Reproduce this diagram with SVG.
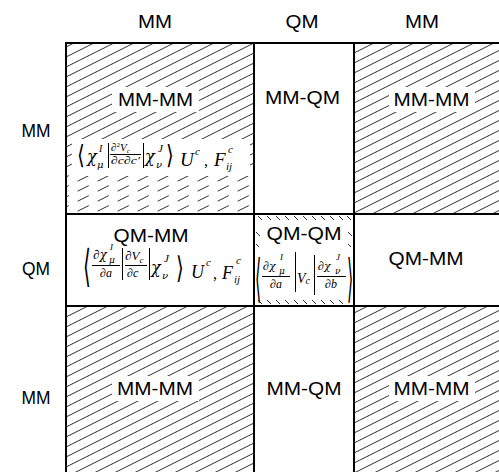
<svg xmlns="http://www.w3.org/2000/svg" width="499" height="472" viewBox="0 0 499 472">
  <style>
    .lbl { font-family: "Liberation Sans", Arial, sans-serif; font-size: 18px; fill: #000; text-anchor: middle; }
    .m { font-family: "Liberation Serif", "Times New Roman", serif; fill: #000; }
    .g { font-family: "DejaVu Serif", "Liberation Serif", serif; font-style: italic; fill: #000; }
    .i { font-style: italic; }
    .br { font-family: "DejaVu Sans", sans-serif; fill: #000; }
    .bar { stroke: #000; stroke-width: 1; }
    .grid { stroke: #000; stroke-width: 2; fill: none; }
    .tick { stroke: #1a1a1a; stroke-width: 0.9; fill: none; }
    .ko { fill: #fff; }
  </style>
  <defs>
    <!-- forward-slash hatching, slope 1:2, 10px vertical pitch -->
    <pattern id="hatch" patternUnits="userSpaceOnUse" width="20" height="10">
      <path d="M-2,11 L22,-1 M-2,1 L2,-1 M18,11 L22,9" stroke="#1a1a1a" stroke-width="0.9" fill="none"/>
    </pattern>
    <pattern id="hatchDash" patternUnits="userSpaceOnUse" width="20" height="10">
      <path d="M-2,11 L22,-1 M-2,1 L2,-1 M18,11 L22,9" stroke="#1a1a1a" stroke-width="0.9" stroke-dasharray="12 10" fill="none"/>
    </pattern>
  </defs>

  <rect width="499" height="472" fill="#fff"/>

  <!-- axis labels -->
  <g id="axis-top">
    <text class="lbl" x="155" y="28" textLength="34" lengthAdjust="spacingAndGlyphs">MM</text>
    <text class="lbl" x="302" y="28" textLength="33" lengthAdjust="spacingAndGlyphs">QM</text>
    <text class="lbl" x="422" y="28" textLength="34" lengthAdjust="spacingAndGlyphs">MM</text>
  </g>
  <g id="axis-left">
    <text class="lbl" x="36" y="137" textLength="29" lengthAdjust="spacingAndGlyphs">MM</text>
    <text class="lbl" x="36" y="275" textLength="28" lengthAdjust="spacingAndGlyphs">QM</text>
    <text class="lbl" x="36" y="404" textLength="29" lengthAdjust="spacingAndGlyphs">MM</text>
  </g>

  <!-- row 1 -->
  <g id="mm-mm-11">
    <rect x="66" y="43" width="188" height="130" fill="url(#hatch)"/>
    <rect x="66" y="173" width="188" height="41" fill="url(#hatchDash)"/>
    <rect class="ko" x="112" y="87" width="87" height="25"/>
    <rect class="ko" x="72" y="139" width="178" height="37"/>
    <text class="lbl" x="155.5" y="106" textLength="75" lengthAdjust="spacingAndGlyphs">MM-MM</text>
    <g id="f-mmmm">
      <text class="br" font-size="20" transform="translate(77,164) scale(1,1.3)">⟨</text>
      <text class="g" x="87" y="162" font-size="16">χ</text>
      <text class="m i" x="99" y="152" font-size="10">I</text>
      <text class="g" x="97" y="168" font-size="10">μ</text>
      <line class="bar" x1="108.5" y1="143" x2="108.5" y2="168"/>
      <text class="m" x="111" y="151" font-size="11">∂<tspan font-size="7" dy="-4">2</tspan><tspan class="i" dy="4">V</tspan><tspan class="i" font-size="7" dy="2">c</tspan></text>
      <line class="bar" x1="110" y1="154.5" x2="141" y2="154.5" stroke-width="0.8"/>
      <text class="m i" x="111" y="164" font-size="11" textLength="29" lengthAdjust="spacingAndGlyphs">∂c∂c′</text>
      <line class="bar" x1="143.5" y1="143" x2="143.5" y2="168"/>
      <text class="g" x="145" y="162" font-size="16">χ</text>
      <text class="m i" x="158" y="152" font-size="11">J</text>
      <text class="g" x="156" y="168" font-size="10">ν</text>
      <text class="br" font-size="20" transform="translate(166,164) scale(1,1.3)">⟩</text>
      <text class="m i" x="180" y="166" font-size="19">U</text>
      <text class="m i" x="195" y="155" font-size="11">c</text>
      <text class="m" x="204" y="166" font-size="16">,</text>
      <text class="m i" x="214" y="166" font-size="19">F</text>
      <text class="m i" x="228" y="153" font-size="11">c</text>
      <text class="m i" x="226" y="170" font-size="11">ij</text>
    </g>
  </g>
  <g id="mm-qm-12">
    <text class="lbl" x="302.5" y="104" textLength="75" lengthAdjust="spacingAndGlyphs">MM-QM</text>
  </g>
  <g id="mm-mm-13">
    <rect x="354" y="43" width="145" height="171" fill="url(#hatch)"/>
    <rect class="ko" x="389" y="87" width="86" height="25"/>
    <text class="lbl" x="431.5" y="106" textLength="76" lengthAdjust="spacingAndGlyphs">MM-MM</text>
  </g>

  <!-- row 2 -->
  <g id="qm-mm-21">
    <text class="lbl" x="151" y="242" textLength="75" lengthAdjust="spacingAndGlyphs">QM-MM</text>
    <g id="f-qmmm">
      <text class="br" font-size="20" transform="translate(83,281) scale(1,2.2)">⟨</text>
      <text class="m" x="93" y="259" font-size="13">∂<tspan class="g" font-size="12">χ</tspan></text>
      <text class="m i" x="110" y="250" font-size="9">I</text>
      <text class="g" x="109" y="263" font-size="9">μ</text>
      <line class="bar" x1="92" y1="265.5" x2="120" y2="265.5"/>
      <text class="m i" x="100" y="277" font-size="12">∂a</text>
      <line class="bar" x1="122.5" y1="248" x2="122.5" y2="280"/>
      <text class="m" x="125" y="260" font-size="13">∂<tspan class="i">V</tspan><tspan class="i" font-size="9" dy="3">c</tspan></text>
      <line class="bar" x1="125" y1="265.5" x2="147" y2="265.5"/>
      <text class="m i" x="127" y="277" font-size="12">∂c</text>
      <line class="bar" x1="149.5" y1="248" x2="149.5" y2="280"/>
      <text class="g" x="151" y="273" font-size="16">χ</text>
      <text class="m i" x="164" y="262" font-size="11">J</text>
      <text class="g" x="162" y="279" font-size="10">ν</text>
      <text class="br" font-size="20" transform="translate(176,278) scale(1,1.5)">⟩</text>
      <text class="m i" x="191" y="278" font-size="18">U</text>
      <text class="m i" x="206" y="266" font-size="11">c</text>
      <text class="m" x="213" y="279" font-size="16">,</text>
      <text class="m i" x="222" y="279" font-size="18">F</text>
      <text class="m i" x="236" y="264" font-size="11">c</text>
      <text class="m i" x="234" y="283" font-size="11">ij</text>
    </g>
  </g>
  <g id="qm-qm-22">
    <!-- short back-slash ticks around the block edge -->
    <path class="tick" d="M258,216 l4,4 M267,216 l4,4 M276,216 l4,4 M285,216 l4,4 M294,216 l4,4 M303,216 l4,4 M312,216 l4,4 M321,216 l4,4 M330,216 l4,4 M339,216 l4,4 M347,216 l4,4
                          M256,232 l4,4 M256,244 l3,3 M348,232 l4,4 M348,244 l3,3
                          M258,300 l4,4 M267,300 l4,4 M276,300 l4,4 M285,300 l4,4 M294,300 l4,4 M303,300 l4,4 M312,300 l4,4 M321,300 l4,4 M330,300 l4,4 M339,300 l4,4"/>
    <text class="lbl" x="304" y="240" textLength="75" lengthAdjust="spacingAndGlyphs">QM-QM</text>
    <g id="f-qmqm">
      <text class="br" font-size="16" transform="translate(255,296) scale(1,3.2)">⟨</text>
      <text class="m" x="263" y="270" font-size="12">∂<tspan class="g" font-size="11">χ</tspan></text>
      <text class="m i" x="280" y="260" font-size="9">I</text>
      <text class="g" x="279" y="274" font-size="9">μ</text>
      <line class="bar" x1="262" y1="276.5" x2="290" y2="276.5"/>
      <text class="m i" x="270" y="288" font-size="12">∂a</text>
      <line class="bar" x1="295.5" y1="252" x2="295.5" y2="292"/>
      <text class="m i" x="297" y="283" font-size="14">V<tspan font-size="10" dy="1">c</tspan></text>
      <line class="bar" x1="314.5" y1="255" x2="314.5" y2="295"/>
      <text class="m" x="318" y="270" font-size="12">∂<tspan class="g" font-size="11">χ</tspan></text>
      <text class="m i" x="336" y="260" font-size="9">J</text>
      <text class="g" x="335" y="274" font-size="9">ν</text>
      <line class="bar" x1="317" y1="276.5" x2="346" y2="276.5"/>
      <text class="m i" x="325" y="288" font-size="12">∂b</text>
      <text class="br" font-size="16" transform="translate(347,296) scale(1,3.2)">⟩</text>
    </g>
  </g>
  <g id="qm-mm-23">
    <text class="lbl" x="426" y="265" textLength="75" lengthAdjust="spacingAndGlyphs">QM-MM</text>
  </g>

  <!-- row 3 -->
  <g id="mm-mm-31">
    <rect x="66" y="306" width="188" height="166" fill="url(#hatch)"/>
    <rect class="ko" x="112" y="376" width="87" height="25"/>
    <text class="lbl" x="155" y="395" textLength="76" lengthAdjust="spacingAndGlyphs">MM-MM</text>
  </g>
  <g id="mm-qm-32">
    <text class="lbl" x="304" y="395" textLength="75" lengthAdjust="spacingAndGlyphs">MM-QM</text>
  </g>
  <g id="mm-mm-33">
    <rect x="354" y="306" width="145" height="166" fill="url(#hatch)"/>
    <rect class="ko" x="389" y="376" width="86" height="25"/>
    <text class="lbl" x="431.5" y="395" textLength="76" lengthAdjust="spacingAndGlyphs">MM-MM</text>
  </g>

  <!-- block borders -->
  <g id="connectors">
    <path class="grid" d="M66,472 V43 H499 M254,43 V472 M354,43 V472 M66,214 H499 M66,306 H499"/>
  </g>
</svg>
